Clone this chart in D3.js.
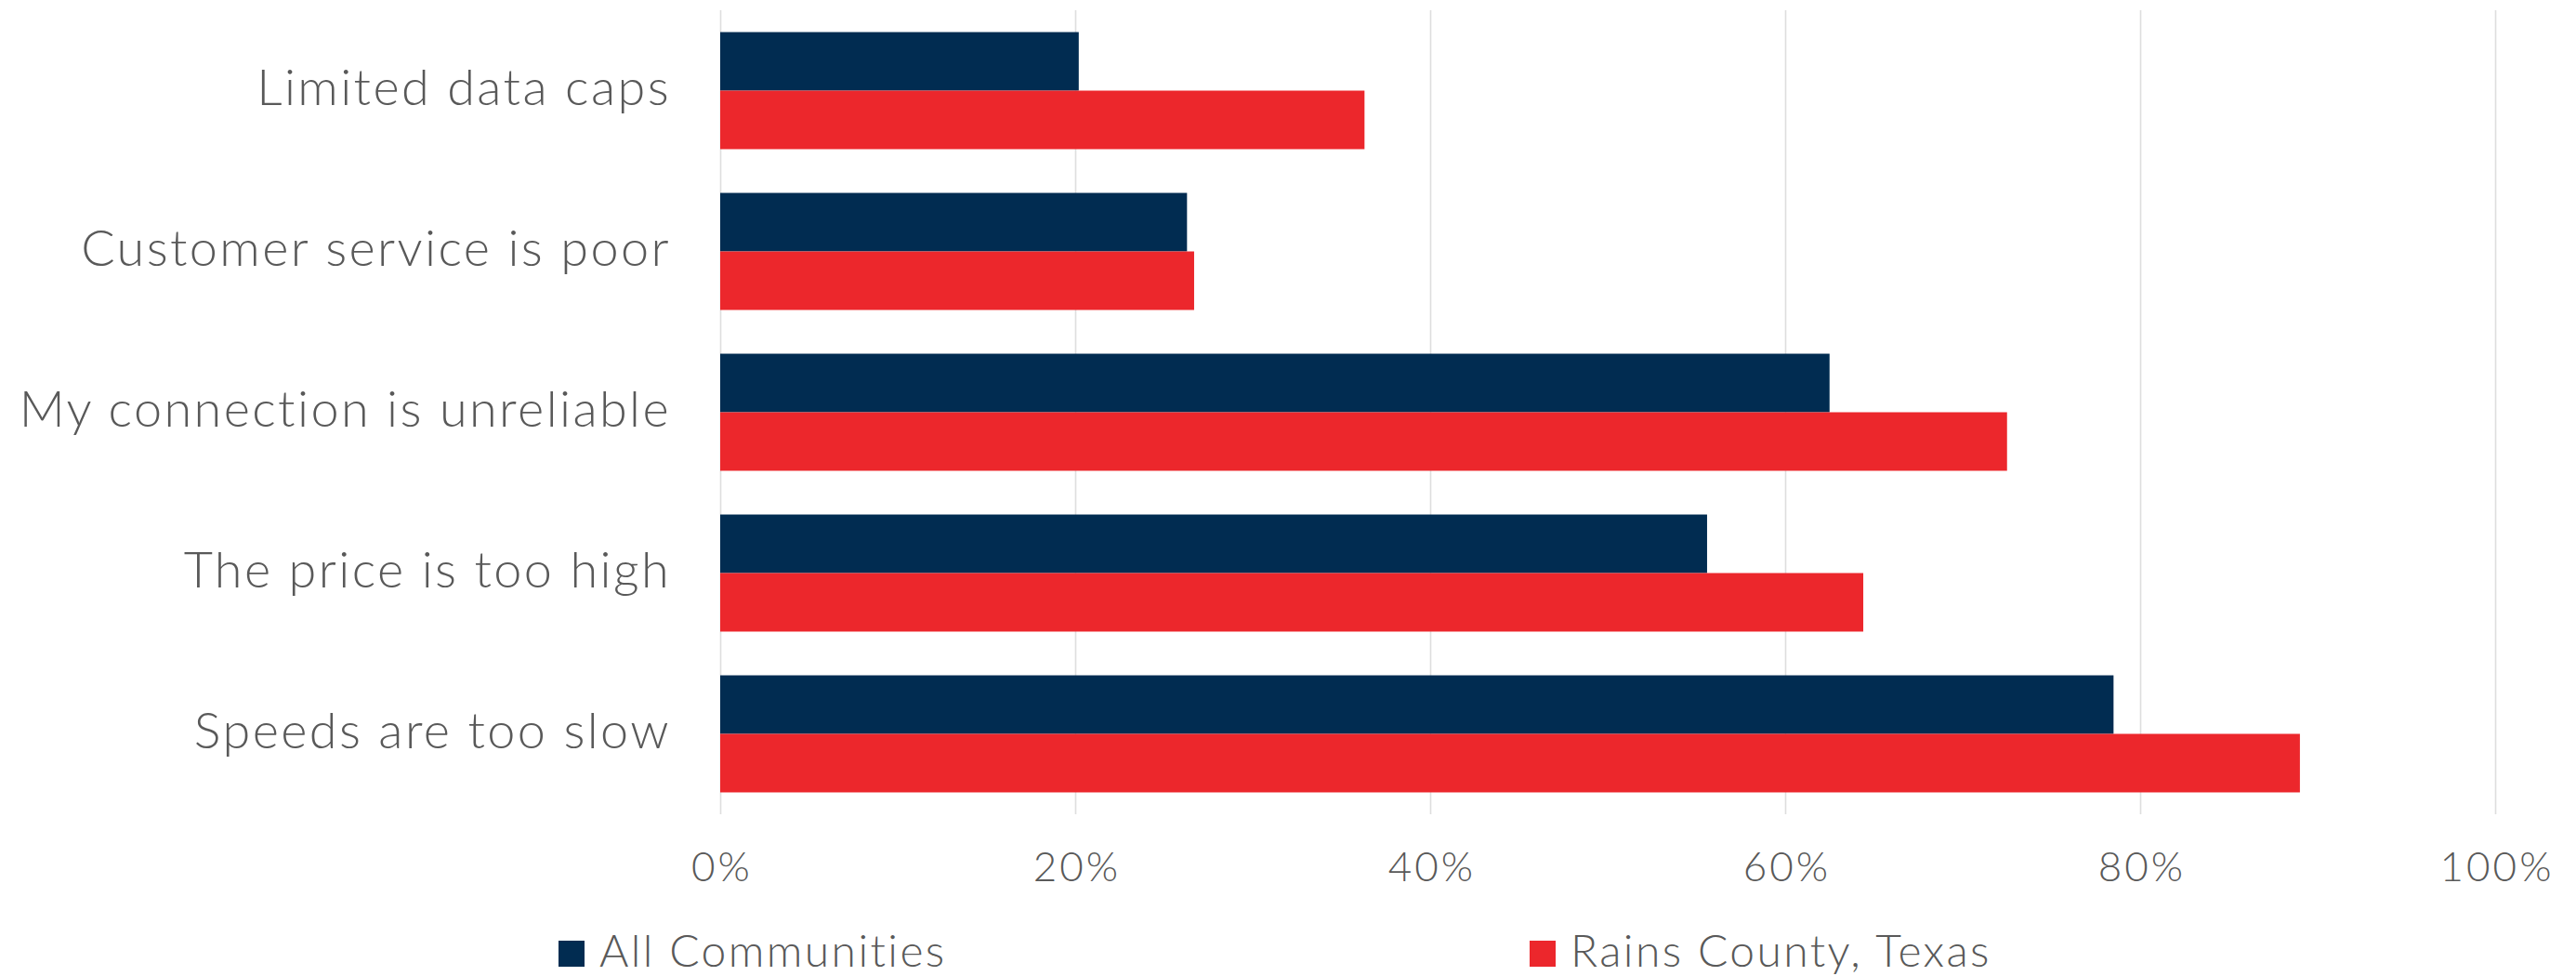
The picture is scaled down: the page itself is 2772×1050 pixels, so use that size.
<!DOCTYPE html>
<html>
<head>
<meta charset="utf-8">
<script src="https://cdn.jsdelivr.net/npm/d3@7"></script>
<style>
  body { margin: 0; background: #fff; }
  svg text { font-family: Lato, "Open Sans", sans-serif; font-weight: 300; fill: #595959; }
</style>
</head>
<body>
<svg id="chart"></svg>
<script>
// data
var categories = ["Limited data caps", "Customer service is poor", "My connection is unreliable", "The price is too high", "Speeds are too slow"];
var seriesNames = ["All Communities", "Rains County, Texas"];
var allCommunities = [0.202, 0.263, 0.625, 0.556, 0.785];
var rainsCounty = [0.363, 0.267, 0.725, 0.644, 0.890];
var xTicks = [0, 0.2, 0.4, 0.6, 0.8, 1.0];
var colors = ["#012c51", "#ec272c"];

var width = 2772, height = 1050;
var plot = { left: 775, right: 2685, top: 11, bottom: 876 };

var svg = d3.select("#chart")
    .attr("width", width)
    .attr("height", height);

var x = d3.scaleLinear().domain([0, 1]).range([plot.left, plot.right]);
var y = d3.scaleBand().domain(categories).range([plot.top, plot.bottom])
    .paddingInner(0.272).paddingOuter(0.136);
var ySub = d3.scaleBand().domain(seriesNames).range([0, y.bandwidth()]);

// gridlines + tick labels
var xAxis = d3.axisBottom(x)
    .tickValues(xTicks)
    .tickSize(-(plot.bottom - plot.top))
    .tickPadding(0)
    .tickFormat(d3.format(".0%"));
var gx = svg.append("g")
    .attr("transform", "translate(0," + plot.bottom + ")")
    .call(xAxis);
gx.select(".domain").remove();
gx.selectAll(".tick line").attr("stroke", "#dedede").attr("stroke-width", 1.6);
gx.selectAll(".tick text")
    .attr("y", 72)
    .attr("dy", 0)
    .attr("x", 1.5)
    .style("font-size", "44px")
    .style("letter-spacing", "3px");

// bars
var rows = categories.map(function(c, i) {
  return { cat: c, values: [allCommunities[i], rainsCounty[i]] };
});
var group = svg.selectAll("g.cat").data(rows).enter().append("g")
    .attr("class", "cat")
    .attr("transform", function(d) { return "translate(0," + y(d.cat) + ")"; });
group.selectAll("rect").data(function(d) {
    return d.values.map(function(v, j) { return { name: seriesNames[j], v: v, j: j }; });
  }).enter().append("rect")
    .attr("x", x(0))
    .attr("y", function(d) { return ySub(d.name); })
    .attr("width", function(d) { return x(d.v) - x(0); })
    .attr("height", ySub.bandwidth())
    .attr("fill", function(d) { return colors[d.j]; });

// category labels
var yAxis = d3.axisLeft(y).tickSize(0).tickPadding(53);
var gy = svg.append("g")
    .attr("transform", "translate(" + plot.left + ",0)")
    .call(yAxis);
gy.select(".domain").remove();
gy.selectAll(".tick text")
    .attr("dy", 0)
    .attr("y", 15.4)
    .style("font-size", "54px")
    .style("letter-spacing", "2.4px");

// legend
var legendX = [601, 1646];
var legend = svg.selectAll("g.legend").data(seriesNames).enter().append("g")
    .attr("class", "legend")
    .attr("transform", function(d, i) { return "translate(" + legendX[i] + ",1012)"; });
legend.append("rect")
    .attr("width", 28).attr("height", 28)
    .attr("fill", function(d, i) { return colors[i]; });
legend.append("text")
    .attr("x", 44).attr("y", 28)
    .style("font-size", "48px")
    .style("letter-spacing", "2.4px")
    .text(function(d) { return d; });
</script>
</body>
</html>
